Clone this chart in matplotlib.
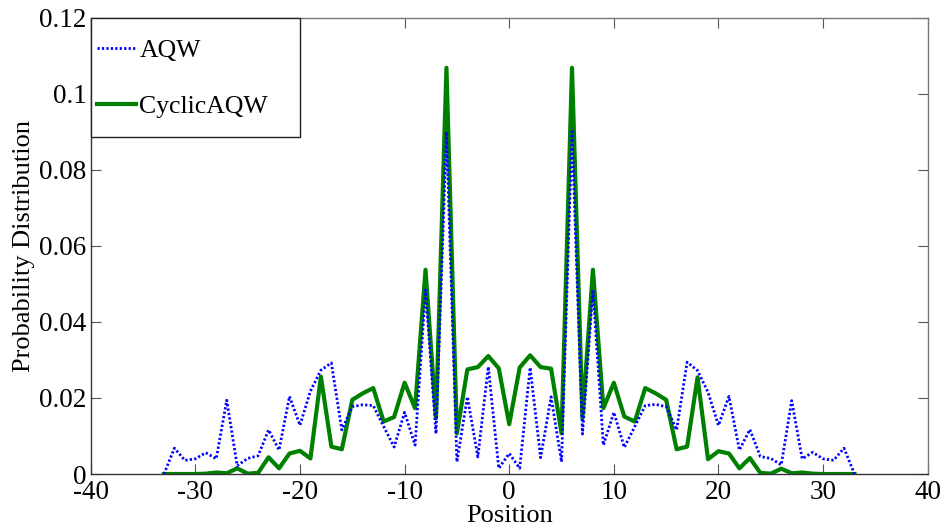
import numpy as np
import matplotlib
matplotlib.use("Agg")
import matplotlib.pyplot as plt
from matplotlib.patches import Rectangle

plt.rcParams["font.family"] = ["Liberation Serif", "DejaVu Serif"]
plt.rcParams["axes.unicode_minus"] = False

position = list(range(-33, 34))

# AQW probability distribution, positions -33 .. 33
aqw = [
    0.0000, 0.0068, 0.0036, 0.0040, 0.0056, 0.0040, 0.0194, 0.0022, 0.0041, 0.0048,
    0.0116, 0.0063, 0.0204, 0.0128, 0.0218, 0.0273, 0.0292, 0.0116, 0.0177, 0.0182,
    0.0180, 0.0125, 0.0071, 0.0162, 0.0076, 0.0484, 0.0106, 0.0900, 0.0032, 0.0203,
    0.0045, 0.0282, 0.0015, 0.0054, 0.0015, 0.0280, 0.0043, 0.0203, 0.0032, 0.0900,
    0.0105, 0.0484, 0.0076, 0.0162, 0.0070, 0.0125, 0.0180, 0.0183, 0.0177, 0.0116,
    0.0294, 0.0272, 0.0215, 0.0128, 0.0204, 0.0063, 0.0117, 0.0046, 0.0041, 0.0024,
    0.0193, 0.0040, 0.0057, 0.0040, 0.0036, 0.0068, 0.0000,
]

# Cyclic AQW probability distribution, positions -33 .. 33
cyclic_aqw = [
    0.0000, 0.0000, 0.0000, 0.0000, 0.0001, 0.0004, 0.0002, 0.0015, 0.0001, 0.0003,
    0.0044, 0.0015, 0.0054, 0.0061, 0.0041, 0.0256, 0.0072, 0.0065, 0.0195, 0.0212,
    0.0226, 0.0138, 0.0150, 0.0240, 0.0173, 0.0537, 0.0147, 0.1068, 0.0107, 0.0275,
    0.0281, 0.0310, 0.0278, 0.0131, 0.0280, 0.0312, 0.0281, 0.0277, 0.0107, 0.1068,
    0.0147, 0.0537, 0.0173, 0.0240, 0.0151, 0.0138, 0.0226, 0.0212, 0.0195, 0.0065,
    0.0072, 0.0254, 0.0039, 0.0060, 0.0054, 0.0015, 0.0042, 0.0003, 0.0001, 0.0014,
    0.0002, 0.0004, 0.0001, 0.0000, 0.0000, 0.0000, 0.0000,
]

x_ticks = [-40, -30, -20, -10, 0, 10, 20, 30, 40]
y_ticks = [0, 0.02, 0.04, 0.06, 0.08, 0.1, 0.12]
y_tick_labels = ["0", "0.02", "0.04", "0.06", "0.08", "0.1", "0.12"]

FS_TICK = 19.5
FS_LABEL = 19
FS_LEG = 18.5

fig = plt.figure(figsize=(9.41, 5.31), dpi=100)
ax = fig.add_axes([0.0964, 0.1073, 0.8895, 0.8597])

l_aqw, = ax.plot(position, aqw, color="#0000ff", linestyle=(0, (0.8, 0.8)),
                 linewidth=2.0, zorder=3, label="AQW")
l_cyc, = ax.plot(position, cyclic_aqw, color="#008000", linestyle="-",
                 linewidth=3.0, zorder=2, label="CyclicAQW")

ax.set_xlim(-40, 40)
ax.set_ylim(0, 0.12)
ax.set_xticks(x_ticks)
ax.set_xticklabels([str(v) for v in x_ticks])
ax.set_yticks(y_ticks)
ax.set_yticklabels(y_tick_labels)

ax.tick_params(direction="in", length=7, width=0.8, color="#555555",
               top=True, right=True, labelsize=FS_TICK)
ax.tick_params(axis="x", pad=4)
ax.tick_params(axis="y", pad=3)
for side in ["left", "bottom"]:
    ax.spines[side].set_color("#333333")
    ax.spines[side].set_linewidth(1.0)
for side in ["top", "right"]:
    ax.spines[side].set_color("#777777")
    ax.spines[side].set_linewidth(1.0)

ax.set_xlabel("Position", fontsize=FS_LABEL, labelpad=0)
ax.set_ylabel("Probability Distribution", fontsize=FS_LABEL, labelpad=3)

# legend box: white panel with a dark outline in the upper-left corner
ax.add_patch(Rectangle((0, 0.738), 0.25, 0.262, transform=ax.transAxes,
                       facecolor="white", edgecolor="#222222", linewidth=1.0,
                       zorder=5, clip_on=False))
leg = ax.legend(handles=[l_aqw, l_cyc], loc="upper left",
                bbox_to_anchor=(0.0075, 0.954), borderaxespad=0, borderpad=0,
                fontsize=FS_LEG, frameon=False,
                handlelength=1.5, handletextpad=0.15, labelspacing=1.31)
leg.set_zorder(6)

fig.savefig("out.png", dpi=100)
